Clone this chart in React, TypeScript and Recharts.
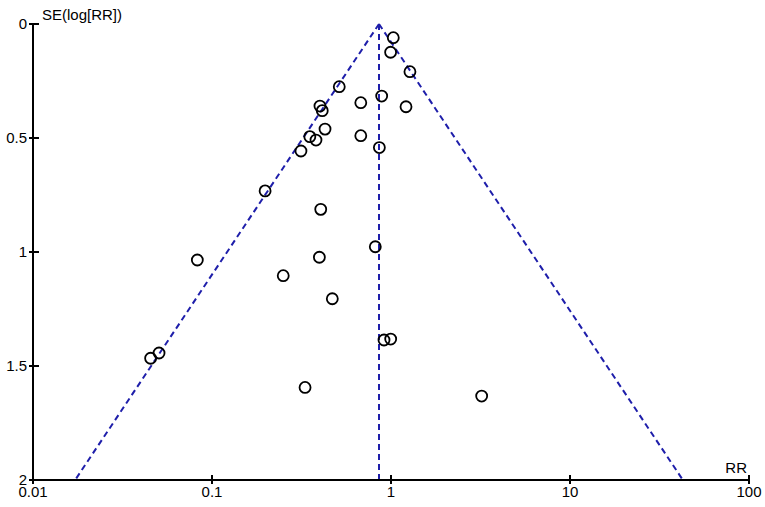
import { ScatterChart, Scatter, XAxis, YAxis, ReferenceLine } from 'recharts';

// Study estimates: risk ratio and SE(log RR)
const riskRatios = [
  1.03, 0.995, 1.276, 0.514, 0.887, 0.678, 1.213, 0.401, 0.413, 0.428, 0.678, 0.352, 0.381, 0.314,
  0.861, 0.198, 0.405, 0.817, 0.0828, 0.398, 0.25, 0.47, 0.914, 0.996, 0.331, 0.0454, 0.0506, 3.21,
];
const standardErrors = [
  0.06, 0.124, 0.209, 0.275, 0.316, 0.345, 0.363, 0.36, 0.38, 0.461, 0.49, 0.494, 0.509, 0.557,
  0.542, 0.732, 0.813, 0.977, 1.035, 1.023, 1.104, 1.205, 1.386, 1.382, 1.594, 1.466, 1.443, 1.632,
];

// Pooled estimate and the pseudo 95% limits where they meet SE = 2
const pooledRR = 0.857;
const lowerLimitAtMaxSE = 0.0172;
const upperLimitAtMaxSE = 42.7;

const xTicks = [0.01, 0.1, 1, 10, 100];
const yTicks = [0, 0.5, 1, 1.5, 2];

const studies = riskRatios.map((rr, i) => ({ rr, se: standardErrors[i] }));

const font = 'Arial, "Liberation Sans", sans-serif';
const blue = '#1e1eaa';
const TICK_SIZE = 4;
const TICK_MARGIN = 2;

function XTick(props: any) {
  const { x, y, payload } = props;
  const axisY = y - TICK_SIZE - TICK_MARGIN;
  return (
    <g>
      <line x1={x} x2={x} y1={axisY - 5} y2={axisY + 4} stroke="#000" strokeWidth={2} />
      <text x={x} y={axisY + 17} textAnchor="middle" fontSize={15} fontFamily={font} fill="#000">
        {payload.value}
      </text>
    </g>
  );
}

function YTick(props: any) {
  const { x, y, payload } = props;
  const axisX = x + TICK_SIZE + TICK_MARGIN;
  return (
    <g>
      <line x1={axisX - 4} x2={axisX + 6} y1={y} y2={y} stroke="#000" strokeWidth={2} />
      <text x={axisX - 6} y={y + 5} textAnchor="end" fontSize={15} fontFamily={font} fill="#000">
        {payload.value}
      </text>
    </g>
  );
}

function Ring(props: any) {
  const { cx, cy } = props;
  return <circle cx={cx} cy={cy} r={5.5} fill="none" stroke="#000" strokeWidth={1.8} />;
}

export default function App() {
  return (
    <div style={{ position: 'absolute', left: 0, top: 0, width: 765, height: 507, background: '#fff' }}>
      <ScatterChart width={765} height={507} margin={{ top: 24, right: 16, bottom: 0, left: 0 }}>
        <XAxis
          type="number"
          dataKey="rr"
          scale="log"
          domain={[0.01, 100]}
          ticks={xTicks}
          allowDataOverflow
          height={27}
          tick={<XTick />}
          tickLine={false}
          tickSize={TICK_SIZE}
          tickMargin={TICK_MARGIN}
          axisLine={{ stroke: '#000', strokeWidth: 2 }}
        />
        <YAxis
          type="number"
          dataKey="se"
          reversed
          domain={[0, 2]}
          ticks={yTicks}
          width={33}
          tick={<YTick />}
          tickLine={false}
          tickSize={TICK_SIZE}
          tickMargin={TICK_MARGIN}
          axisLine={{ stroke: '#000', strokeWidth: 2 }}
        />
        <ReferenceLine
          segment={[{ x: pooledRR, y: 0 }, { x: lowerLimitAtMaxSE, y: 2 }]}
          stroke={blue}
          strokeWidth={2}
          strokeDasharray="6 4"
        />
        <ReferenceLine
          segment={[{ x: pooledRR, y: 0 }, { x: upperLimitAtMaxSE, y: 2 }]}
          stroke={blue}
          strokeWidth={2}
          strokeDasharray="6 4"
        />
        <ReferenceLine
          segment={[{ x: pooledRR, y: 0 }, { x: pooledRR, y: 2 }]}
          stroke={blue}
          strokeWidth={2}
          strokeDasharray="6 4"
        />
        <Scatter data={studies} shape={<Ring />} isAnimationActive={false} />
      </ScatterChart>
      <div
        style={{
          position: 'absolute',
          left: 42,
          top: 6,
          fontFamily: font,
          fontSize: 15,
          lineHeight: '18px',
        }}
      >
        SE(log[RR])
      </div>
      <div
        style={{
          position: 'absolute',
          right: 18,
          top: 459,
          fontFamily: font,
          fontSize: 15,
          lineHeight: '18px',
        }}
      >
        RR
      </div>
    </div>
  );
}
